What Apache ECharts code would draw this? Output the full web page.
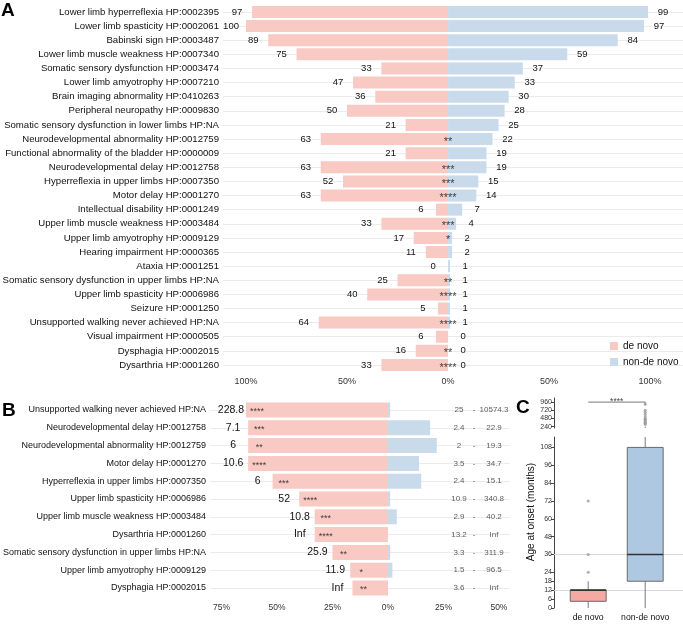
<!DOCTYPE html>
<html><head><meta charset="utf-8">
<script src="https://cdn.jsdelivr.net/npm/echarts@6/dist/echarts.min.js"></script>
<style>html,body{margin:0;padding:0;background:#fff}#c{width:683px;height:625px}</style>
</head><body><div id="c"></div>
<script>
// ---------- Panel A data ----------
const aCategories = [
 'Lower limb hyperreflexia HP:0002395',
 'Lower limb spasticity HP:0002061',
 'Babinski sign HP:0003487',
 'Lower limb muscle weakness HP:0007340',
 'Somatic sensory dysfunction HP:0003474',
 'Lower limb amyotrophy HP:0007210',
 'Brain imaging abnormality HP:0410263',
 'Peripheral neuropathy HP:0009830',
 'Somatic sensory dysfunction in lower limbs HP:NA',
 'Neurodevelopmental abnormality HP:0012759',
 'Functional abnormality of the bladder HP:0000009',
 'Neurodevelopmental delay HP:0012758',
 'Hyperreflexia in upper limbs HP:0007350',
 'Motor delay HP:0001270',
 'Intellectual disability HP:0001249',
 'Upper limb muscle weakness HP:0003484',
 'Upper limb amyotrophy HP:0009129',
 'Hearing impairment HP:0000365',
 'Ataxia HP:0001251',
 'Somatic sensory dysfunction in upper limbs HP:NA',
 'Upper limb spasticity HP:0006986',
 'Seizure HP:0001250',
 'Unsupported walking never achieved HP:NA',
 'Visual impairment HP:0000505',
 'Dysphagia HP:0002015',
 'Dysarthria HP:0001260'];
const aDeNovo    = [97,100,89,75,33,47,36,50,21,63,21,63,52,63,6,33,17,11,0,25,40,5,64,6,16,33];
const aNonDeNovo = [99,97,84,59,37,33,30,28,25,22,19,19,15,14,7,4,2,2,1,1,1,1,1,0,0,0];
const aStars = ['','','','','','','','','','**','','***','***','****','','***','*','','','**','****','','****','','**','****'];
const aTicks = [-100,-50,0,50,100];

// ---------- Panel B data ----------
const bCategories = [
 'Unsupported walking never achieved HP:NA',
 'Neurodevelopmental delay HP:0012758',
 'Neurodevelopmental abnormality HP:0012759',
 'Motor delay HP:0001270',
 'Hyperreflexia in upper limbs HP:0007350',
 'Upper limb spasticity HP:0006986',
 'Upper limb muscle weakness HP:0003484',
 'Dysarthria HP:0001260',
 'Somatic sensory dysfunction in upper limbs HP:NA',
 'Upper limb amyotrophy HP:0009129',
 'Dysphagia HP:0002015'];
const bDeNovo    = [64,63,63,63,52,40,33,33,25,17,16];
const bNonDeNovo = [1,19,22,14,15,1,4,0,1,2,0];
const bOddsRatio = ['228.8','7.1','6','10.6','6','52','10.8','Inf','25.9','11.9','Inf'];
const bStars     = ['****','***','**','****','***','****','***','****','**','*','**'];
const bCiLow     = ['25','2.4','2','3.5','2.4','10.9','2.9','13.2','3.3','1.5','3.6'];
const bCiHigh    = ['10574.3','22.9','19.3','34.7','15.1','340.8','40.2','Inf','311.9','96.5','Inf'];
const bTicks = [-75,-50,-25,0,25,50];

// ---------- Panel C data ----------
const cGroups = ['de novo','non-de novo'];
const cMin    = [0, 0];
const cQ1     = [4.5, 18];
const cMedian = [12, 36];
const cQ3     = [12, 108];
const cMax    = [18, 240];
const cOutliersDeNovo    = [24, 36, 72];
const cOutliersNonDeNovo = [300,336,360,384,420,456,480,540,600,660,720,900];
const cTicksLower = [0,6,12,18,24,36,48,60,72,84,96,108];
const cTicksUpper = [240,480,720,960];
const cRefLines = [12, 36];
const cSignif = '****';
const cYTitle = 'Age at onset (months)';

// ---------- styles ----------
const PINK='#F9C9C3', BLUE='#C9DBEB', PINK_C='#F5A9A3', BLUE_C='#AFC8E2';
const FONT='Liberation Sans', TXT='#111', AX='#333';
const GRIDLINE='#ebebeb';

const chart = echarts.init(document.getElementById('c'), null, {renderer:'canvas'});

const boxColors = [PINK_C, BLUE_C];
function boxRender(params, api) {
  const cs = params.coordSys;
  const top = cs.y, bot = cs.y + cs.height;
  const x = api.value(0);
  const cx = api.coord([x, 0])[0];
  const hw = api.coord([x + 0.315, 0])[0] - cx;
  const Y = v => api.coord([x, v])[1];
  const clamp = y => Math.max(top, Math.min(bot, y));
  const children = [];
  const wStyle = {stroke:'#7a7a7a', lineWidth:1};
  const seg = (y1, y2) => { const a = clamp(y1), b = clamp(y2);
    if (Math.abs(a - b) > 0.01) children.push({type:'line', shape:{x1:cx,y1:a,x2:cx,y2:b}, style:wStyle}); };
  seg(Y(api.value(1)), Y(api.value(2)));
  seg(Y(api.value(4)), Y(api.value(5)));
  const yq1 = clamp(Y(api.value(2))), yq3 = clamp(Y(api.value(4)));
  if (yq1 - yq3 > 0.01) children.push({type:'rect', shape:{x:cx-hw, y:yq3, width:2*hw, height:yq1-yq3},
     style:{fill: boxColors[params.dataIndex], stroke:'#6a6a6a', lineWidth:1}});
  const ym = Y(api.value(3));
  if (ym >= top - 0.5 && ym <= bot + 0.5) children.push({type:'line', shape:{x1:cx-hw,y1:ym,x2:cx+hw,y2:ym}, style:{stroke:'#333', lineWidth:1.6}});
  return {type:'group', children};
}
const boxData = cGroups.map((g,i)=>[i+1, cMin[i], cQ1[i], cMedian[i], cQ3[i], cMax[i]]);
const outAll = [...cOutliersDeNovo.map(v=>[1,v]), ...cOutliersNonDeNovo.map(v=>[2,v])];
const C_LOW_MAX = 115, C_UP_MIN = 200, C_UP_MAX = 1080;

const gridBase = {containLabel:false, outerBoundsMode:'none'};
const option = {
  animation:false,
  textStyle:{fontFamily:FONT},
  grid:[
    Object.assign({left:223, width:460, top:4.94, height:367.1}, gridBase),
    Object.assign({left:210, width:300, top:401.1, height:195.8}, gridBase),
    Object.assign({left:554, width:129, top:437, height:171}, gridBase),
    Object.assign({left:554, width:129, top:398, height:30}, gridBase)
  ],
  legend:{
    data:['de novo','non-de novo'], orient:'vertical', left:610, top:341, padding:0,
    itemWidth:8, itemHeight:8, itemGap:6, icon:'rect',
    textStyle:{fontSize:10, color:TXT, fontFamily:FONT, padding:[0,0,0,0]}, selectedMode:false
  },
  xAxis:[
    {type:'value', gridIndex:0, min:-111.4, max:116.3,
     axisLine:{show:false}, axisTick:{show:false}, splitLine:{show:false},
     axisLabel:{customValues:aTicks, formatter:v=>Math.abs(v)+'%', fontSize:9, color:AX, margin:5}},
    {type:'value', gridIndex:1, min:-80.2, max:55,
     axisLine:{show:false}, axisTick:{show:false}, splitLine:{show:false},
     axisLabel:{customValues:bTicks, formatter:v=>Math.abs(v)+'%', fontSize:8.5, color:AX, margin:6}},
    {type:'value', gridIndex:2, min:0.4, max:2.663,
     axisLine:{show:false}, axisTick:{show:false}, splitLine:{show:false},
     axisLabel:{customValues:[1,2], formatter:v=>cGroups[Math.round(v)-1], fontSize:8.7, color:TXT, margin:5}},
    {type:'value', gridIndex:3, min:0.4, max:2.663, show:false, splitLine:{show:false}}
  ],
  yAxis:[
    {type:'category', gridIndex:0, data:aCategories, inverse:true,
     axisLine:{show:false}, axisTick:{show:false}, splitLine:{show:false},
     axisLabel:{fontSize:9.6, color:TXT, margin:4, interval:0}},
    {type:'category', gridIndex:1, data:bCategories, inverse:true,
     axisLine:{show:false}, axisTick:{show:false}, splitLine:{show:false},
     axisLabel:{fontSize:9, color:TXT, margin:4, interval:0}},
    {type:'value', gridIndex:2, min:0, max:C_LOW_MAX,
     axisLine:{show:true, lineStyle:{color:'#444', width:1}},
     axisTick:{show:true, customValues:cTicksLower, length:3, lineStyle:{color:'#444'}},
     splitLine:{show:false},
     axisLabel:{customValues:cTicksLower, fontSize:7, color:AX, margin:2}},
    {type:'value', gridIndex:3, min:C_UP_MIN, max:C_UP_MAX,
     axisLine:{show:true, lineStyle:{color:'#444', width:1}},
     axisTick:{show:true, customValues:cTicksUpper, length:3, lineStyle:{color:'#444'}},
     splitLine:{show:false},
     axisLabel:{customValues:cTicksUpper, fontSize:7, color:AX, margin:2}}
  ],
  series:[
    // ---- A ----
    {type:'bar', name:'de novo', xAxisIndex:0, yAxisIndex:0, data:aDeNovo.map(v=>-v),
     barWidth:12, barGap:'-100%', itemStyle:{color:PINK},
     label:{show:true, position:'left', distance:15, align:'center', formatter:p=>Math.abs(p.value), fontSize:9.5, color:TXT},
     markLine:{silent:true, symbol:'none', z:1, label:{show:false}, lineStyle:{color:GRIDLINE, width:1, type:'solid'},
       data:aCategories.map(c=>({yAxis:c}))}},
    {type:'bar', name:'non-de novo', xAxisIndex:0, yAxisIndex:0, data:aNonDeNovo,
     barWidth:12, barGap:'-100%', itemStyle:{color:BLUE},
     label:{show:true, position:'right', distance:15, align:'center', fontSize:9.5, color:TXT}},
    {type:'scatter', xAxisIndex:0, yAxisIndex:0, symbolSize:0, silent:true, z:5,
     data:aStars.map((s,i)=>[0,i]),
     label:{show:true, position:'inside', formatter:p=>aStars[p.dataIndex], fontSize:11, color:TXT, offset:[0,2.5]}},
    // ---- B ----
    {type:'bar', name:'de novo', xAxisIndex:1, yAxisIndex:1, data:bDeNovo.map(v=>-v),
     barWidth:15, barGap:'-100%', itemStyle:{color:PINK},
     label:{show:true, position:'left', distance:15, align:'center', formatter:p=>bOddsRatio[p.dataIndex], fontSize:10.5, color:TXT},
     markLine:{silent:true, symbol:'none', z:1, label:{show:false}, lineStyle:{color:GRIDLINE, width:1, type:'solid'},
       data:bCategories.map(c=>({yAxis:c}))}},
    {type:'bar', name:'non-de novo', xAxisIndex:1, yAxisIndex:1, data:bNonDeNovo,
     barWidth:15, barGap:'-100%', itemStyle:{color:BLUE}, label:{show:false}},
    {type:'scatter', xAxisIndex:1, yAxisIndex:1, symbolSize:0, silent:true, z:5,
     data:bDeNovo.map((v,i)=>[-v+5,i]),
     label:{show:true, position:'inside', formatter:p=>bStars[p.dataIndex], fontSize:9, color:TXT, offset:[0,2]}},
    {type:'scatter', xAxisIndex:1, yAxisIndex:1, symbolSize:0, silent:true, z:5,
     data:bCiLow.map((v,i)=>[32,i]),
     label:{show:true, position:'inside', formatter:p=>bCiLow[p.dataIndex], fontSize:8, color:AX}},
    {type:'scatter', xAxisIndex:1, yAxisIndex:1, symbolSize:0, silent:true, z:5,
     data:bCiLow.map((v,i)=>[38.8,i]),
     label:{show:true, position:'inside', formatter:'-', fontSize:8, color:AX}},
    {type:'scatter', xAxisIndex:1, yAxisIndex:1, symbolSize:0, silent:true, z:5,
     data:bCiHigh.map((v,i)=>[47.8,i]),
     label:{show:true, position:'inside', formatter:p=>bCiHigh[p.dataIndex], fontSize:8, color:AX}},
    // ---- C ----
    {type:'custom', xAxisIndex:2, yAxisIndex:2, renderItem:boxRender, data:boxData,
     encode:{x:0, y:[1,2,3,4,5]}, z:3,
     markLine:{silent:true, symbol:'none', z:1, label:{show:false}, lineStyle:{color:'#d9d9d9', width:1, type:'solid'},
       data:cRefLines.map(v=>({yAxis:v}))}},
    {type:'custom', xAxisIndex:3, yAxisIndex:3, renderItem:boxRender, data:boxData,
     encode:{x:0, y:[1,2,3,4,5]}, z:3},
    {type:'scatter', xAxisIndex:2, yAxisIndex:2, symbolSize:3, silent:true, z:4,
     itemStyle:{color:'#9a9a9a'}, data:outAll.filter(d=>d[1]<=C_LOW_MAX)},
    {type:'scatter', xAxisIndex:3, yAxisIndex:3, symbolSize:3, silent:true, z:4,
     itemStyle:{color:'#9a9a9a'}, data:outAll.filter(d=>d[1]>=C_UP_MIN)},
    {type:'line', xAxisIndex:3, yAxisIndex:3, symbol:'none', silent:true, z:4,
     lineStyle:{color:'#555', width:0.8}, data:[[1,960],[2,960],[2,880]]},
    {type:'scatter', xAxisIndex:3, yAxisIndex:3, symbolSize:0, silent:true, z:5,
     data:[[1.5,960]],
     label:{show:true, position:'inside', formatter:cSignif, fontSize:8.5, color:TXT, offset:[0,-0.5]}}
  ],
  graphic:[
    {type:'text', left:1, top:1, style:{text:'A', font:'bold 19px "Liberation Sans"', fill:'#000'}},
    {type:'text', left:2, top:401, style:{text:'B', font:'bold 19px "Liberation Sans"', fill:'#000'}},
    {type:'text', left:516, top:398, style:{text:'C', font:'bold 19px "Liberation Sans"', fill:'#000'}},
    {type:'text', x:531, y:512, rotation:Math.PI/2,
     style:{text:cYTitle, fontSize:10, fontFamily:FONT, fill:TXT, align:'center', verticalAlign:'middle'}}
  ]
};
chart.setOption(option);
</script></body></html>
